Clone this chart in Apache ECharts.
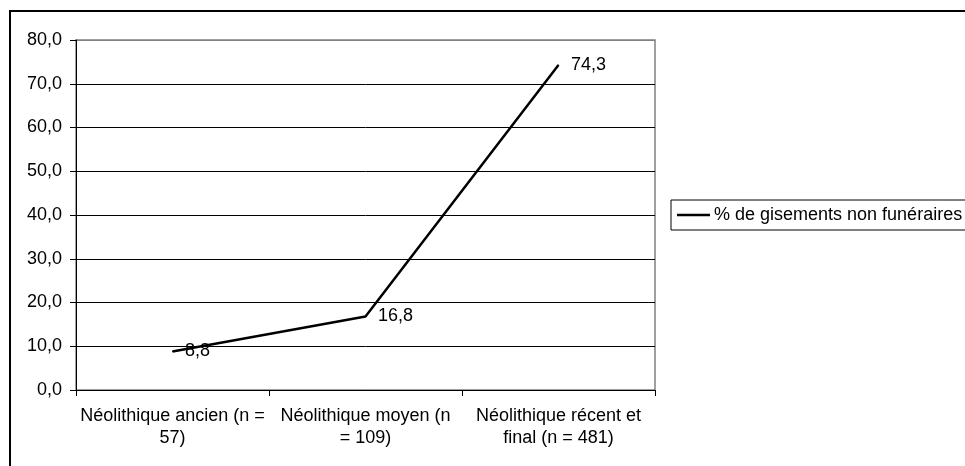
<!DOCTYPE html>
<html>
<head>
<meta charset="utf-8">
<script src="https://cdn.jsdelivr.net/npm/echarts@6/dist/echarts.min.js"></script>
<style>
  html, body { margin: 0; padding: 0; background: #fff; }
  #chart { width: 965px; height: 466px; }
</style>
</head>
<body>
<div id="chart"></div>
<script>
// categories as written under the axis (wrapped like the original)
var categories = ['Néolithique ancien (n =\n57)', 'Néolithique moyen (n\n= 109)', 'Néolithique récent et\nfinal (n = 481)'];
var seriesName = '% de gisements non funéraires';
var values = [8.8, 16.8, 74.3];

var FONT = 'Liberation Sans, Arial, sans-serif';
var FS = 18;

function frNum(v) {
    return Number(v).toFixed(1).replace('.', ',');
}

// gridlines black, top one grey like the plot frame
var splitColors = ['#000', '#000', '#000', '#000', '#000', '#000', '#000', '#000', '#808080'];

var option = {
    animation: false,
    backgroundColor: '#fff',
    textStyle: { fontFamily: FONT, fontSize: FS, color: '#000' },
    grid: {
        left: 76,
        top: 40,
        right: 310,
        bottom: 76,
        show: true,
        borderColor: '#808080',
        borderWidth: 1.5,
        backgroundColor: '#fff'
    },
    legend: {
        left: 671,
        top: 200,
        orient: 'horizontal',
        padding: [6, 80, 6, 6],
        borderColor: '#000',
        borderWidth: 1,
        itemWidth: 33,
        itemHeight: 2.5,
        itemGap: 0,
        icon: 'rect',
        textStyle: { fontFamily: FONT, fontSize: FS, color: '#000', padding: [0, 0, 0, -1] },
        data: [{ name: seriesName, itemStyle: { color: '#000' } }]
    },
    xAxis: {
        type: 'category',
        data: categories,
        boundaryGap: true,
        axisLine: { lineStyle: { color: '#000', width: 1 } },
        axisTick: { show: true, inside: false, length: 6, alignWithLabel: false, lineStyle: { color: '#000' } },
        axisLabel: {
            interval: 0,
            margin: 15,
            lineHeight: 22,
            fontFamily: FONT,
            fontSize: FS,
            color: '#000',
            align: 'center'
        },
        splitLine: { show: false }
    },
    yAxis: {
        type: 'value',
        min: 0,
        max: 80,
        interval: 10,
        axisLine: { show: true, lineStyle: { color: '#000', width: 1 } },
        axisTick: { show: true, inside: false, length: 6, lineStyle: { color: '#000' } },
        axisLabel: {
            margin: 14,
            fontFamily: FONT,
            fontSize: FS,
            color: '#000',
            formatter: function (v) { return frNum(v); }
        },
        splitLine: { show: true, lineStyle: { color: splitColors, width: 1 } }
    },
    series: [{
        name: seriesName,
        type: 'line',
        data: values,
        showSymbol: true,
        symbol: 'circle',
        symbolSize: 1,
        lineStyle: { color: '#000', width: 2.5 },
        itemStyle: { color: '#000' },
        label: {
            show: true,
            position: 'right',
            distance: 12,
            fontFamily: FONT,
            fontSize: FS,
            color: '#000',
            formatter: function (p) { return frNum(p.value); }
        }
    }],
    graphic: [
        { type: 'line', shape: { x1: 9, y1: 11, x2: 965, y2: 11 }, style: { stroke: '#000', lineWidth: 2 } },
        { type: 'line', shape: { x1: 10, y1: 10, x2: 10, y2: 466 }, style: { stroke: '#000', lineWidth: 2 } }
    ]
};

var myChart = echarts.init(document.getElementById('chart'), null, { renderer: 'canvas' });
myChart.setOption(option);
</script>
</body>
</html>
